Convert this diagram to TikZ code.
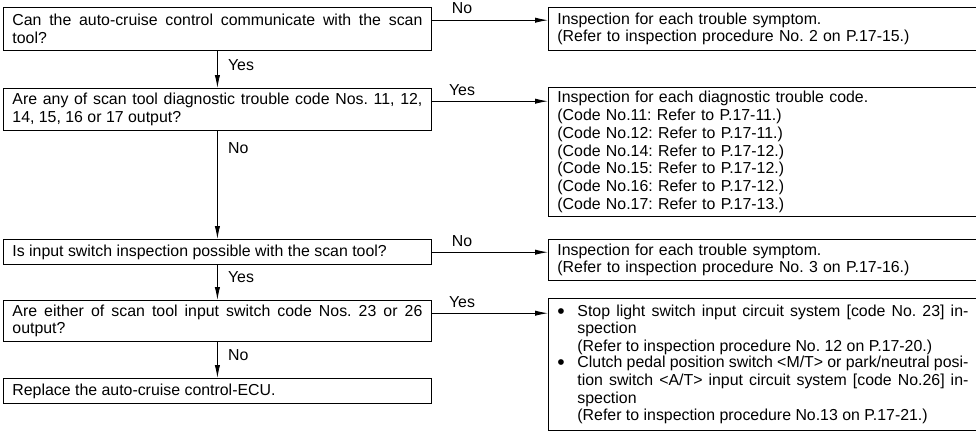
\documentclass[tikz,border=0pt]{standalone}
\usepackage{fontspec}
\setmainfont{Liberation Sans}
\usetikzlibrary{arrows.meta, calc}

% bullet item, text hangs beside the bullet (spaces may squeeze a little)
\newcommand\bitem[1]{\makebox[0.5cm][l]{\raisebox{-0.25ex}{\fontsize{15}{15}\selectfont\textbullet}}%
    \parbox[t]{9.775cm}{\spaceskip=.278em plus .2em minus .15em #1}}

\begin{document}
\begin{tikzpicture}[font=\fontsize{11.3}{12.6}\selectfont\frenchspacing,
        qbox/.style={draw, line width=0.6pt, anchor=north west, text width=10.25cm,
                     inner xsep=0.225cm, inner ysep=2pt, align=justify},
        abox/.style={qbox, text width=10.275cm, align=left},
        flow/.style={-{Latex[length=0.32cm, width=0.13cm]}, line width=0.6pt},
        lbl/.style={inner sep=1pt}
    ]
        \useasboundingbox (0,0) rectangle (24.4,-10.825);
        % questions
        \node[qbox, minimum height=1.075cm] (q1) at (0.075,-0.175)
            {Can the auto-cruise control communicate with the scan tool?};
        \node[qbox, minimum height=1.05cm] (q2) at (0.075,-2.2)
            {Are any of scan tool diagnostic trouble code Nos. 11, 12, 14, 15, 16 or 17 output?};
        \node[qbox, minimum height=0.625cm] (q3) at (0.075,-5.975)
            {Is input switch inspection possible with the scan tool?};
        \node[qbox, minimum height=1.025cm] (q4) at (0.075,-7.5)
            {Are either of scan tool input switch code Nos. 23 or 26 \mbox{output?}};
        \node[qbox, minimum height=0.625cm] (ecu) at (0.075,-9.45)
            {Replace the auto-cruise control-ECU.};
        % actions
        \node[abox, minimum height=1.075cm] (r1) at (13.7,-0.175)
            {Inspection for each trouble symptom.\\(Refer to inspection procedure No. 2 on P.17-15.)};
        \node[abox, minimum height=3.225cm] (r2) at (13.7,-2.175)
            {Inspection for each diagnostic trouble code.\\
             (Code No.11: Refer to P.17-11.)\\
             (Code No.12: Refer to P.17-11.)\\
             (Code No.14: Refer to P.17-12.)\\
             (Code No.15: Refer to P.17-12.)\\
             (Code No.16: Refer to P.17-12.)\\
             (Code No.17: Refer to P.17-13.)};
        \node[abox, minimum height=1.025cm] (r3) at (13.7,-5.975)
            {Inspection for each trouble symptom.\\(Refer to inspection procedure No. 3 on P.17-16.)};
        \node[abox, minimum height=3.3cm] (r4) at (13.7,-7.45)
            {\bitem{Stop light switch input circuit system [code No. 23] in-\linebreak spection\\
                    (Refer to inspection procedure No. 12 on P.17-20.)}\\
             \bitem{Clutch pedal position switch <M/T> or park/neutral posi-\linebreak tion
                    switch <A/T> input circuit system [code No.26] in-\linebreak spection\\
                    (Refer to inspection procedure No.13 on P.17-21.)}};
        % down the left column
        \draw[flow] (q1) -- node[lbl, right=0.22cm, pos=0.39] {Yes} (q2);
        \draw[flow] (q2) -- node[lbl, right=0.22cm, pos=0.16] {No} (q3);
        \draw[flow] (q3) -- node[lbl, right=0.22cm, pos=0.36] {Yes} (q4);
        \draw[flow] (q4) -- node[lbl, right=0.22cm, pos=0.38] {No} (ecu);
        % across to the actions
        \foreach \a/\b/\t in {q1/r1/No, q2/r2/Yes, q3/r3/No, q4/r4/Yes}
            \draw[flow] ($(\a.north east)+(0,-0.33)$) -- node[lbl, above=3pt, pos=0.26] {\t}
                ($(\b.west |- \a.north east)+(0,-0.33)$);
    \end{tikzpicture}
\end{document}
